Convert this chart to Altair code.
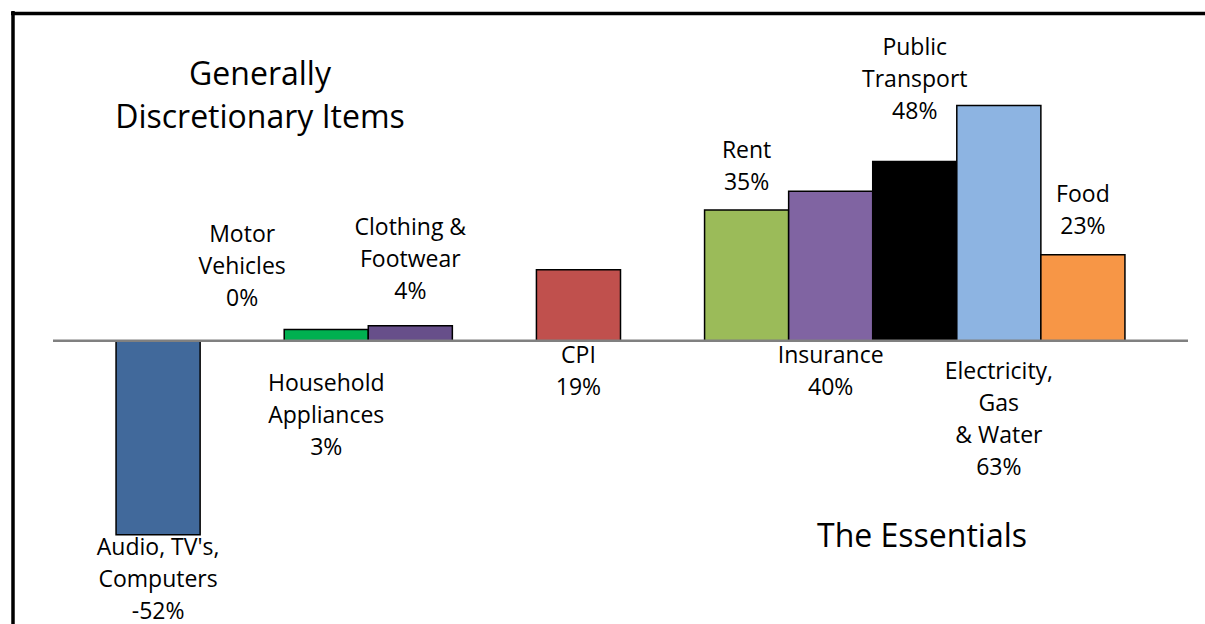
import altair as alt
import pandas as pd

# ---- data ----
categories = ["Audio, TV's, Computers", "Motor Vehicles", "Household Appliances",
              "Clothing & Footwear", "CPI", "Rent", "Insurance", "Public Transport",
              "Electricity, Gas & Water", "Food"]
values = [-52, 0, 3, 4, 19, 35, 40, 48, 63, 23]
colors = ["#41699B", "#808080", "#00B050", "#674F8A", "#C0504D", "#9BBB59",
          "#8064A2", "#000000", "#8DB4E2", "#F79646"]
label_names = ["Audio, TV's,\nComputers", "Motor\nVehicles", "Household\nAppliances",
               "Clothing &\nFootwear", "CPI", "Rent", "Insurance", "Public\nTransport",
               "Electricity,\nGas\n& Water", "Food"]
# position of the first line of each label, in data units (%)
label_anchor = [-55.5, 28.3, -11.6, 30.2, -4.1, 50.8, -4.1, 78.4, -8.4, 39.0]
# category slots along the axis (two empty slots)
slots = ["Audio, TV's, Computers", "Motor Vehicles", "Household Appliances",
         "Clothing & Footwear", "gap1", "CPI", "gap2", "Rent", "Insurance",
         "Public Transport", "Electricity, Gas & Water", "Food"]

df = pd.DataFrame({
    "category": categories,
    "value": values,
    "color": colors,
    "label": [n + "\n" + f"{v}%" for n, v in zip(label_names, values)],
    "anchor": label_anchor,
})

W, H = 1135, 560
x_enc = alt.X("category:N", scale=alt.Scale(domain=slots, paddingInner=0, paddingOuter=0.75),
              axis=None, sort=slots)
y_scale = alt.Scale(domain=[-70, 80], nice=False, zero=False)

base = alt.Chart(df)

bars = base.mark_bar(stroke="black", strokeWidth=1.5).encode(
    x=x_enc,
    y=alt.Y("value:Q", scale=y_scale, axis=None),
    y2=alt.datum(0),
    color=alt.Color("color:N", scale=None),
)

axis_rule = base.mark_rule(color="#808080", strokeWidth=2.5).encode(
    y=alt.Y("z:Q", scale=y_scale, axis=None)
).transform_calculate(z="0").transform_filter("datum.category == 'CPI'")

labels = base.mark_text(font="Open Sans", fontSize=23, lineHeight=32, lineBreak="\n",
                        baseline="middle", align="center", color="black").encode(
    x=x_enc,
    y=alt.Y("anchor:Q", scale=y_scale, axis=None),
    text="label:N",
)

title_left = base.mark_text(font="Open Sans", fontSize=32, lineHeight=43, lineBreak="\n",
                            baseline="middle", align="center", color="black").encode(
    x=alt.value(207), y=alt.value(33), text=alt.value("Generally\nDiscretionary Items")
).transform_filter("datum.category == 'CPI'")

title_right = base.mark_text(font="Open Sans", fontSize=32, baseline="middle",
                             align="center", color="black").encode(
    x=alt.value(869), y=alt.value(495), text=alt.value("The Essentials")
).transform_filter("datum.category == 'CPI'")

frame_left = base.mark_rule(color="black", strokeWidth=3.5).encode(
    x=alt.value(13 - 53), y=alt.value(11 - 42), y2=alt.value(700)
).transform_filter("datum.category == 'CPI'")

frame_top = base.mark_rule(color="black", strokeWidth=3.5).encode(
    y=alt.value(13.5 - 42), x=alt.value(11 - 53), x2=alt.value(1300)
).transform_filter("datum.category == 'CPI'")

chart = alt.layer(frame_left, frame_top, bars, axis_rule, labels, title_left, title_right).properties(
    width=W, height=H,
    padding={"left": 53, "top": 42, "right": 17, "bottom": 22},
    autosize=alt.AutoSizeParams(type="none"),
    background="white",
).configure_view(stroke=None)

chart.save("out.html", embed_options={"renderer": "svg", "actions": False})
